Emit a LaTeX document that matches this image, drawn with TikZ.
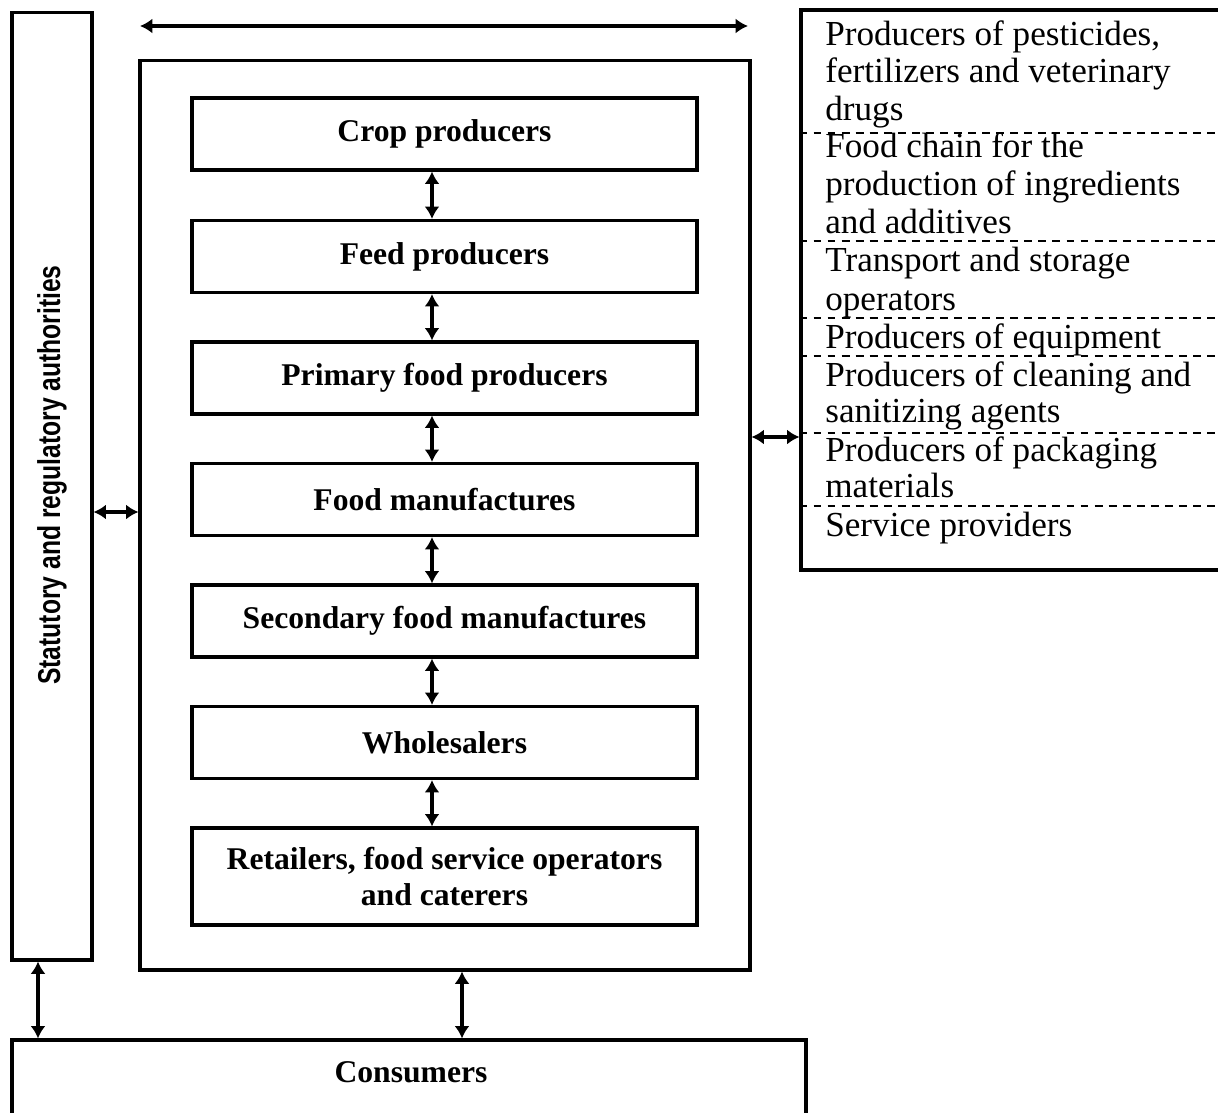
\documentclass[tikz,border=0pt]{standalone}
\usepackage{fontspec}
\setmainfont{Liberation Serif}
\setsansfont{Liberation Sans}
\usetikzlibrary{arrows.meta}

\begin{document}
\begin{tikzpicture}[x=0.02cm,y=-0.02cm,
  frame/.style={draw,line width=1.8pt,rectangle,inner sep=0pt},
  stage/.style={frame,minimum width=10.1cm,minimum height=1.44cm,
    font=\bfseries\fontsize{18}{21}\selectfont,align=center},
  extline/.style={anchor=base west,inner sep=0pt,font=\fontsize{20}{24}\selectfont},
  sep/.style={line width=1.3pt,dash pattern=on 4.5pt off 3.5pt},
  dbl/.style={line width=2pt,{Latex[length=7pt,width=8.5pt]}-{Latex[length=7pt,width=8.5pt]}}]
\useasboundingbox (0,0) rectangle (1218,1113);

% outer containers
\node[frame,minimum width=1.6cm,minimum height=18.96cm] (stat) at (52,486) {};
\node[rotate=90,font=\sffamily\bfseries\fontsize{18}{21}\selectfont] (statlbl) at (52,475)
  {\scalebox{0.78}[1]{Statutory and regulatory authorities}};
\node[frame,minimum width=12.2cm,minimum height=18.2cm] (main) at (445,515) {};
\node[frame,minimum width=8.78cm,minimum height=11.2cm] (ext) at (1020.5,290) {};
\node[frame,minimum width=15.88cm,minimum height=1.8cm] (cons) at (409,1085) {};
\node[font=\bfseries\fontsize{18}{21}\selectfont] (conslbl) at (411,1072) {Consumers};

% stages of the food chain
\node[stage] (crop) at (444.5,134) {Crop producers};
\node[stage] (feed) at (444.5,256.5) {Feed producers};
\node[stage] (prim) at (444.5,378) {Primary food producers};
\node[stage] (fman) at (444.5,499.5) {Food manufactures};
\node[stage] (sman) at (444.5,621) {Secondary food manufactures};
\node[stage] (whol) at (444.5,742.5) {Wholesalers};
\node[stage,minimum height=1.94cm] (reta) at (444.5,876.5)
  {Retailers, food service operators\\and caterers};

% related organisations
\node[extline] (e1a) at (825,45) {Producers of pesticides,};
\node[extline] (e1b) at (825,82) {fertilizers and veterinary};
\node[extline] (e1c) at (825,120) {drugs};
\node[extline] (e2a) at (825,157) {Food chain for the};
\node[extline] (e2b) at (825,195) {production of ingredients};
\node[extline] (e2c) at (825,233) {and additives};
\node[extline] (e3a) at (825,271) {Transport and storage};
\node[extline] (e3b) at (825,310) {operators};
\node[extline] (e4a) at (825,348) {Producers of equipment};
\node[extline] (e5a) at (825,386) {Producers of cleaning and};
\node[extline] (e5b) at (825,422) {sanitizing agents};
\node[extline] (e6a) at (825,461) {Producers of packaging};
\node[extline] (e6b) at (825,497) {materials};
\node[extline] (e7a) at (825,536) {Service providers};

\foreach \yy in {133,241,318,356,433,506}{
  \coordinate (d) at (0,\yy);
  \draw[sep] (ext.west |- d) -- (ext.east |- d);
}

% connectors
\coordinate (topL) at (140,26);
\coordinate (topR) at (748,26);
\draw[dbl] (topL) -- (topR);

\coordinate (col) at (432,0);
\draw[dbl] (crop.south -| col) -- (feed.north -| col);
\draw[dbl] (feed.south -| col) -- (prim.north -| col);
\draw[dbl] (prim.south -| col) -- (fman.north -| col);
\draw[dbl] (fman.south -| col) -- (sman.north -| col);
\draw[dbl] (sman.south -| col) -- (whol.north -| col);
\draw[dbl] (whol.south -| col) -- (reta.north -| col);

\coordinate (rowR) at (0,437);
\draw[dbl] (main.east |- rowR) -- (ext.west |- rowR);
\coordinate (rowL) at (0,512);
\draw[dbl] (stat.east |- rowL) -- (main.west |- rowL);

\coordinate (colS) at (38,0);
\draw[dbl] (stat.south -| colS) -- (cons.north -| colS);
\coordinate (colM) at (462,0);
\draw[dbl] (main.south -| colM) -- (cons.north -| colM);
\end{tikzpicture}
\end{document}
